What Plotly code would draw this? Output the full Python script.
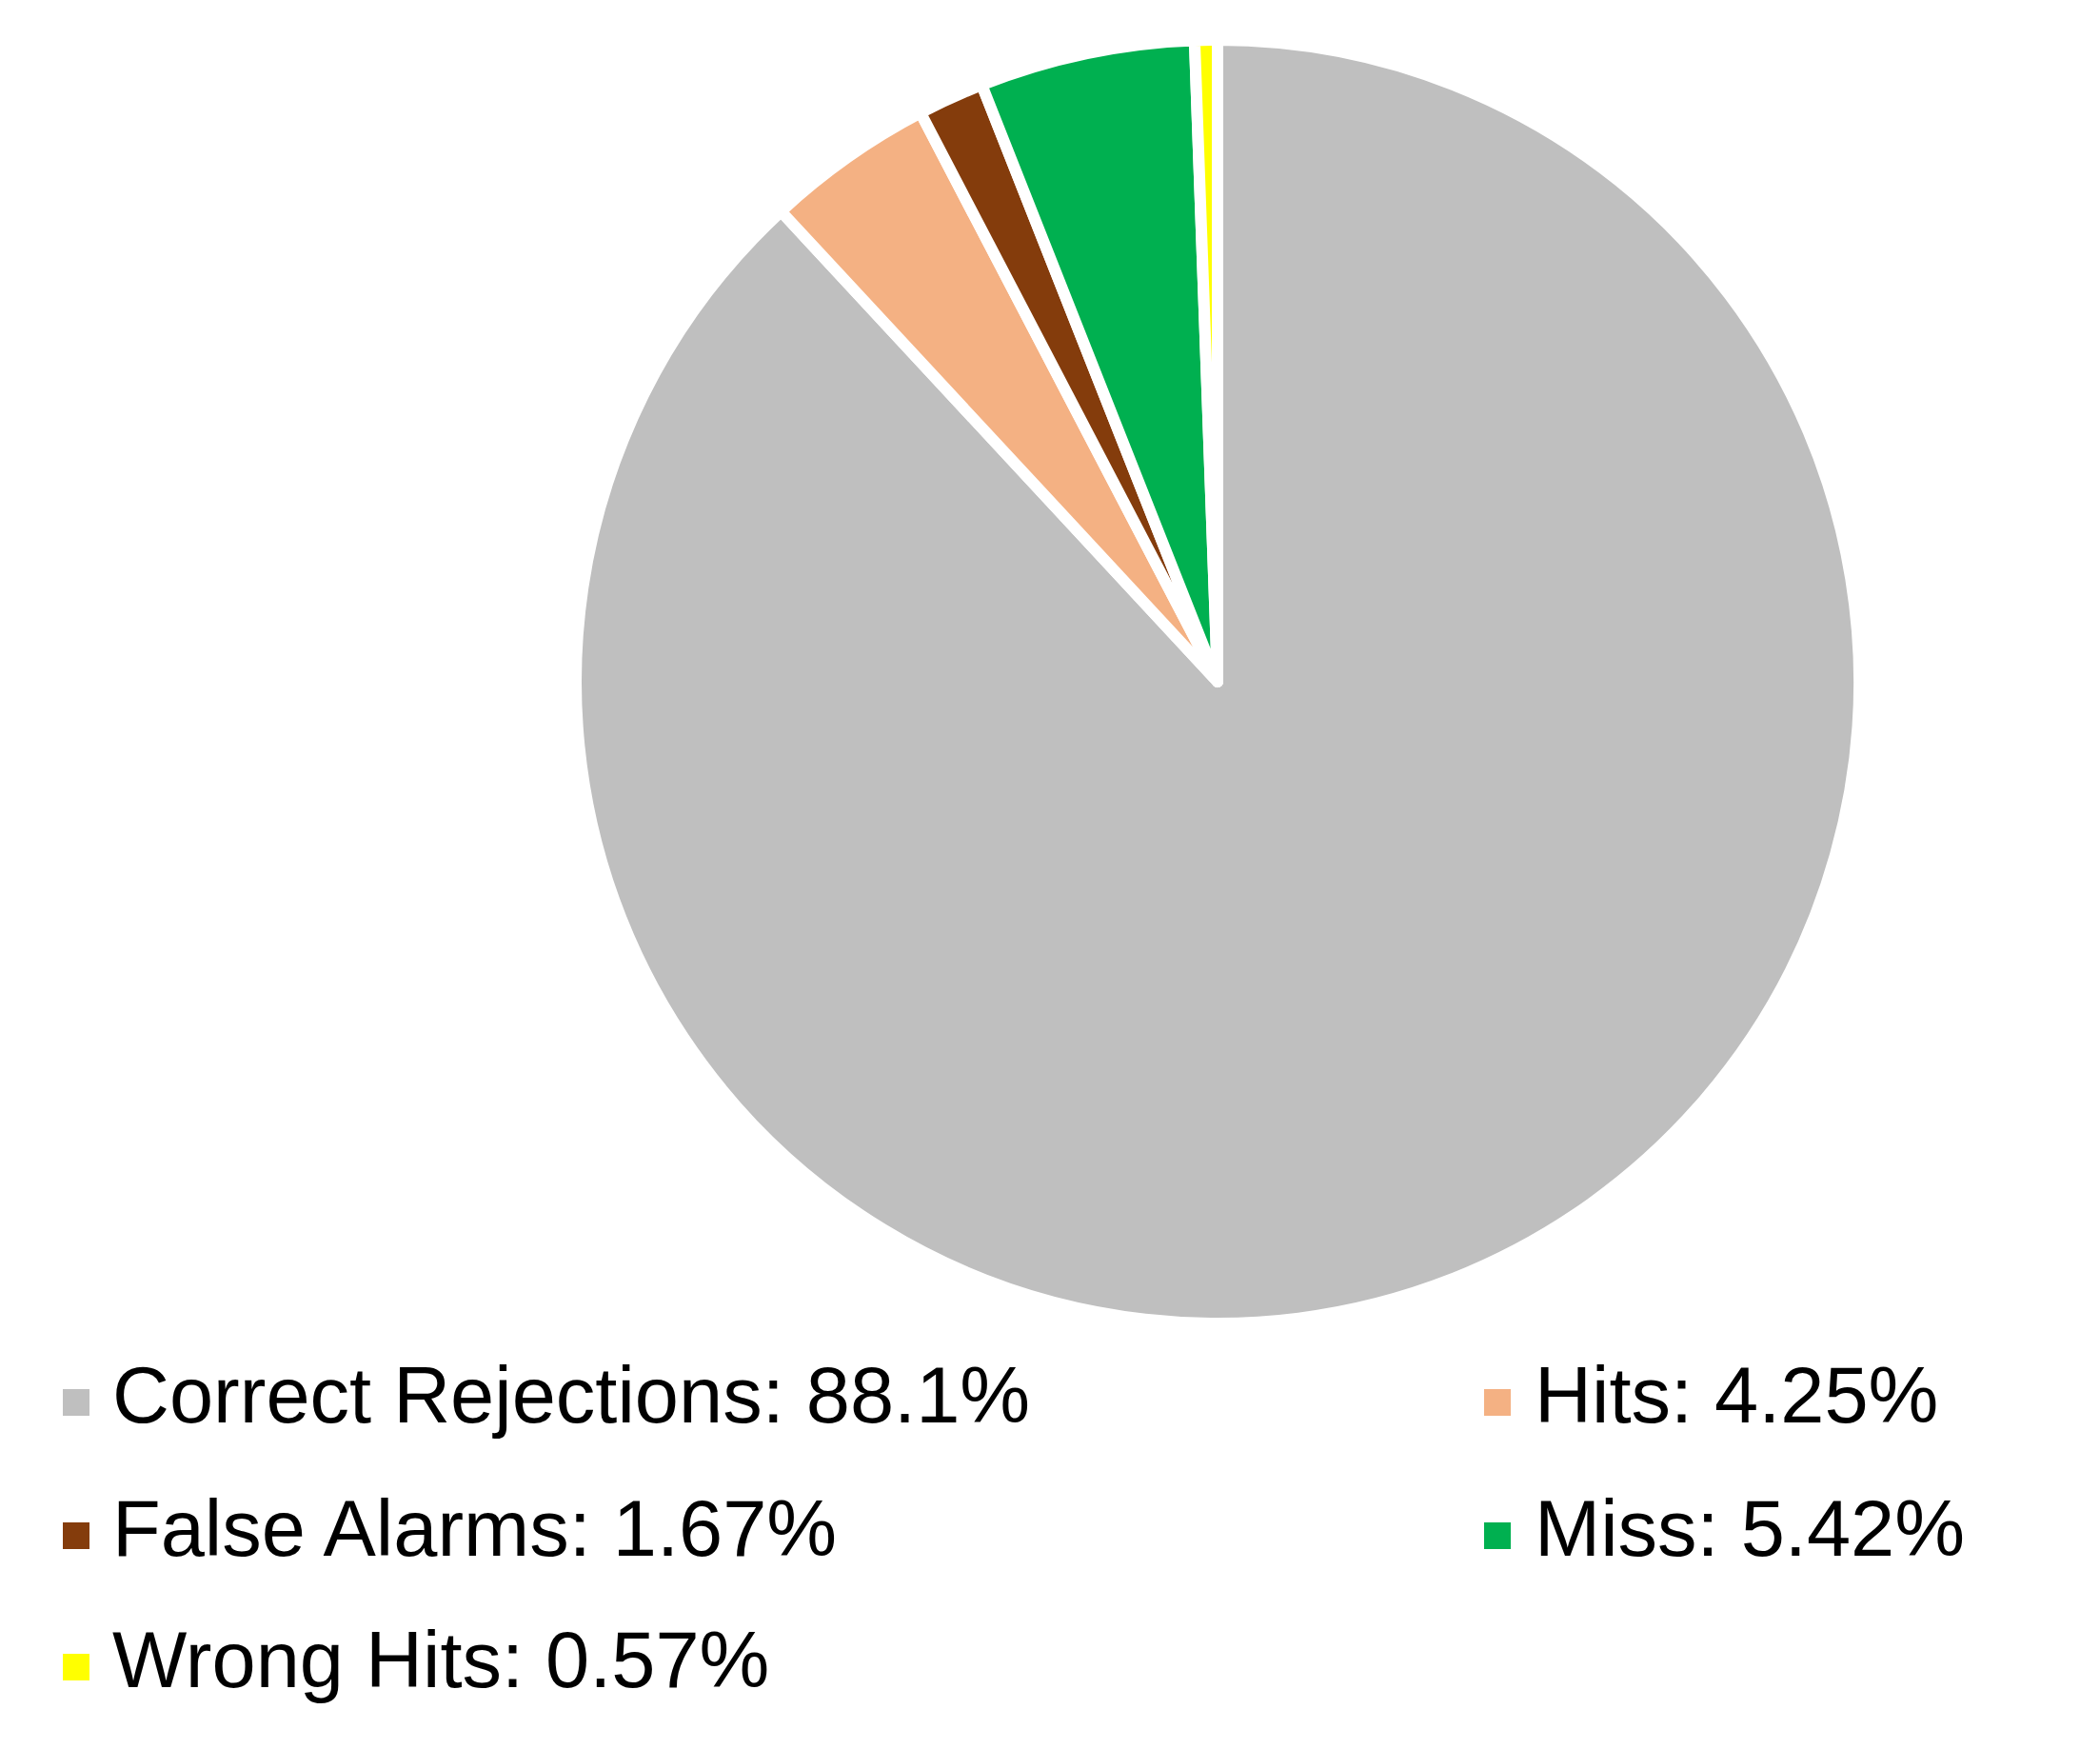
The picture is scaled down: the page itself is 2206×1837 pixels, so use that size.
import plotly.graph_objects as go

# outcome shares (percent), clockwise from 12 o'clock
labels = ["Correct Rejections", "Hits", "False Alarms", "Miss", "Wrong Hits"]
values = [88.1, 4.25, 1.67, 5.42, 0.57]
value_text = ["88.1%", "4.25%", "1.67%", "5.42%", "0.57%"]
colors = ["#BFBFBF", "#F4B183", "#843C0C", "#00B050", "#FFFF00"]

W, H = 2206, 1837
OFF = 8  # page body margin

cx, cy0, r = 1279 - OFF, 716 - OFF, 674

fig = go.Figure(go.Pie(
    labels=labels,
    values=values,
    sort=False,
    direction="clockwise",
    rotation=0,
    textinfo="none",
    hoverinfo="label+percent",
    marker=dict(colors=colors, line=dict(color="white", width=12)),
    domain=dict(x=[(cx - r) / W, (cx + r) / W],
                y=[1 - (cy0 + r) / H, 1 - (cy0 - r) / H]),
    showlegend=False,
))

# custom legend: two columns, filled row by row
col_sq_x = [66 - OFF, 1559 - OFF]
col_txt_x = [120 - OFF - 4, 1614 - OFF - 4]
row_y = [1467 - OFF - 2, 1607 - OFF - 2, 1745 - OFF - 2]
sq = 28
font = dict(family="Liberation Sans, Arial, sans-serif", size=83, color="black")

for i, (lab, txt, c) in enumerate(zip(labels, value_text, colors)):
    col, row = i % 2, i // 2
    cy = row_y[row]
    fig.add_shape(type="rect", xref="paper", yref="paper",
                  x0=col_sq_x[col] / W, x1=(col_sq_x[col] + sq) / W,
                  y0=1 - (cy + 8 + sq / 2) / H, y1=1 - (cy + 8 - sq / 2) / H,
                  fillcolor=c, line_width=0)
    fig.add_annotation(xref="paper", yref="paper",
                       x=col_txt_x[col] / W, y=1 - cy / H,
                       xanchor="left", yanchor="middle",
                       text=f"{lab}: {txt}", showarrow=False, font=font)

fig.update_layout(
    width=W, height=H,
    margin=dict(l=0, r=0, t=0, b=0),
    paper_bgcolor="white",
    plot_bgcolor="white",
)

fig.write_html("out.html")
